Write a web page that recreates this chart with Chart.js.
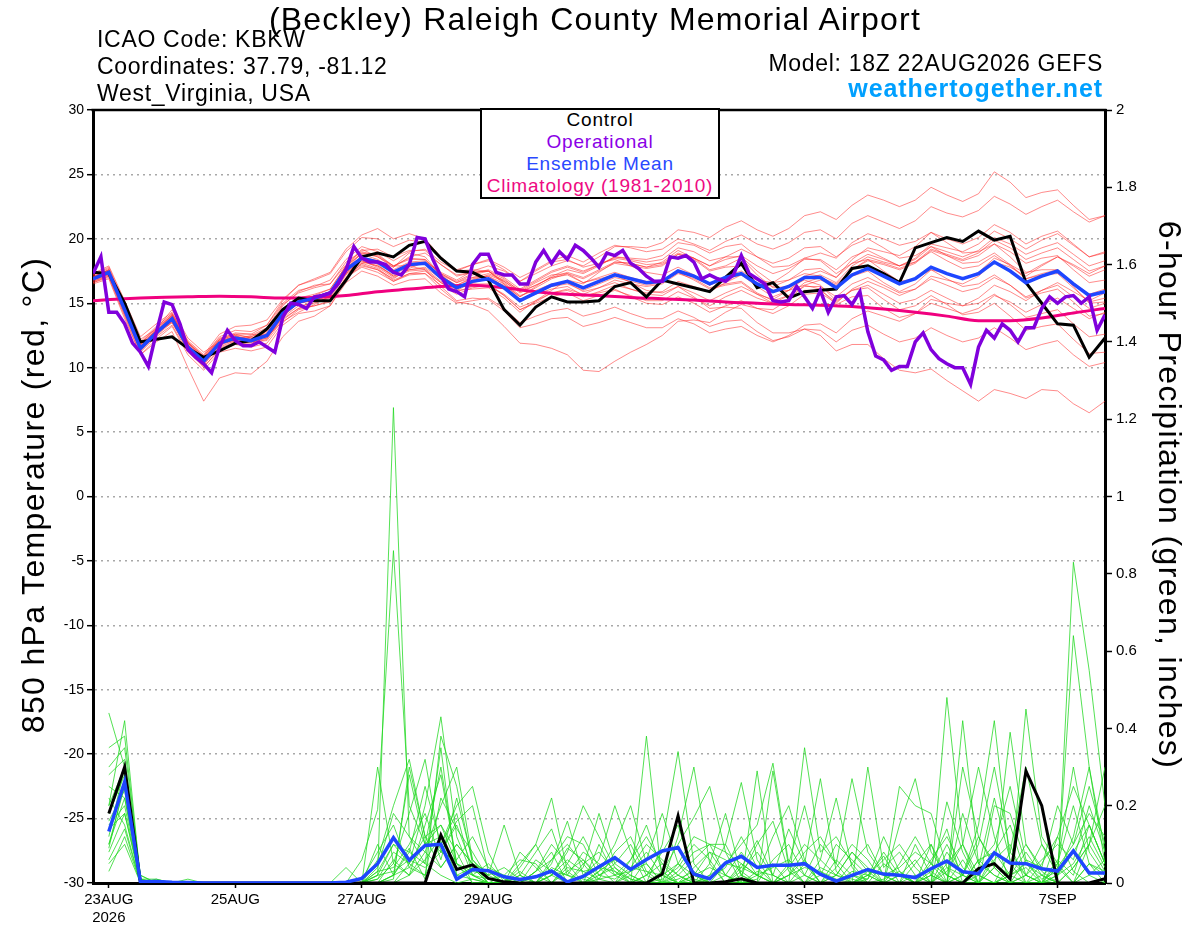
<!DOCTYPE html>
<html><head><meta charset="utf-8">
<script src="https://cdn.jsdelivr.net/npm/chart.js@4.4.1/dist/chart.umd.min.js"></script>
<style>
html,body{margin:0;padding:0;background:#fff;overflow:hidden;}
#wrap{position:relative;width:1200px;height:927px;overflow:hidden;}
#c{position:absolute;left:0;top:0;}
.t{position:absolute;white-space:nowrap;line-height:1;font-family:'Liberation Sans',Arial,Helvetica,sans-serif;color:#000;}
</style></head><body>
<div id="wrap">
<canvas id="c" width="1200" height="927"></canvas>
<div class="t" style="left:0;width:1190px;text-align:center;top:3px;font-size:32px;letter-spacing:1.2px;">(Beckley) Raleigh County Memorial Airport</div>
<div class="t" style="left:97px;top:28px;font-size:23px;letter-spacing:0.7px;">ICAO Code: KBKW</div>
<div class="t" style="left:97px;top:55px;font-size:23px;letter-spacing:0.7px;">Coordinates: 37.79, -81.12</div>
<div class="t" style="left:97px;top:82px;font-size:23px;letter-spacing:0.7px;">West_Virginia, USA</div>
<div class="t" style="right:97px;top:52px;font-size:23px;letter-spacing:0.7px;">Model: 18Z 22AUG2026 GEFS</div>
<div class="t" style="right:97px;top:76px;font-size:25px;letter-spacing:0.9px;font-weight:bold;color:#00a0ff;">weathertogether.net</div>
<div style="position:absolute;left:480px;top:108px;width:240px;height:91px;box-sizing:border-box;border:2px solid #000;background:#fff;"></div>
<div class="t" style="left:480px;width:240px;text-align:center;top:110px;font-size:19px;letter-spacing:0.8px;color:#000;">Control</div>
<div class="t" style="left:480px;width:240px;text-align:center;top:132px;font-size:19px;letter-spacing:0.8px;color:#8a00e6;">Operational</div>
<div class="t" style="left:480px;width:240px;text-align:center;top:154px;font-size:19px;letter-spacing:0.8px;color:#2a48ff;">Ensemble Mean</div>
<div class="t" style="left:480px;width:240px;text-align:center;top:176px;font-size:19px;letter-spacing:0.8px;color:#ee0a82;">Climatology (1981-2010)</div>
<div class="t" style="left:-317px;width:700px;text-align:center;top:479px;font-size:32px;letter-spacing:1.35px;transform:rotate(-90deg);transform-origin:50% 50%;">850 hPa Temperature (red, °C)</div>
<div class="t" style="left:820px;width:700px;text-align:center;top:479px;font-size:32px;letter-spacing:1.35px;transform:rotate(90deg);transform-origin:50% 50%;">6-hour Precipitation (green, inches)</div>
</div>
<script>
// ---- x axis tick labels (hours after 18Z 22AUG2026) ----
const xTickHours = [6, 54, 102, 150, 222, 270, 318, 366];
const xTickLabels = [['23AUG','2026'], '25AUG', '27AUG', '29AUG', '1SEP', '3SEP', '5SEP', '7SEP'];

// ---- 850 hPa temperature, 6-hourly from 18Z 22AUG ----
const ctrlTemp = [17.4,17.3,15.0,12.0,12.2,12.4,11.5,10.8,11.3,11.9,12.1,13.0,14.5,
15.4,15.2,15.2,16.8,18.6,18.9,18.6,19.5,19.8,18.5,17.5,17.4,16.8,
14.5,13.3,14.7,15.5,15.1,15.1,15.2,16.3,16.6,15.5,16.8,16.5,16.2,
15.9,17.0,18.1,16.2,16.6,15.4,15.9,16.0,16.1,17.7,17.9,17.3,16.6,
19.3,19.7,20.1,19.8,20.6,19.9,20.2,16.6,15.0,13.4,13.3,10.8,12.3];
const meanTemp = [16.9,17.4,14.5,11.5,12.7,13.8,11.6,10.5,11.9,12.3,12.1,12.5,14.2,
15.1,15.4,15.8,17.6,18.5,18.2,17.4,18.0,18.1,17.0,16.2,16.7,16.9,
16.2,15.2,15.8,16.4,16.7,16.2,16.7,17.2,16.9,16.6,16.7,17.5,17.1,
16.5,17.0,17.3,16.5,15.9,16.3,17.0,17.0,16.2,17.2,17.7,17.1,16.5,
16.9,17.8,17.3,16.9,17.3,18.2,17.5,16.6,17.1,17.5,16.5,15.6,15.9];
// operational, 3-hourly
const opTemp = [17.3,18.6,14.3,14.3,13.4,11.9,11.2,10.1,12.7,15.1,14.9,13.4,11.4,10.8,10.3,9.6,
11.6,12.9,12.1,11.7,11.7,12.0,11.6,11.2,13.9,15.0,14.9,14.6,15.5,15.6,15.8,16.5,
17.6,19.4,18.5,18.2,18.2,18.0,17.4,17.2,18.0,20.1,20.0,18.4,17.1,16.1,15.9,15.5,
18.0,18.8,18.8,17.4,17.2,17.2,16.5,16.5,18.2,19.1,18.1,19.0,18.4,19.5,19.1,18.5,
17.8,18.9,18.7,19.1,18.1,17.7,17.1,16.7,16.7,18.6,18.5,18.7,18.2,16.9,17.2,16.9,
16.7,17.2,18.7,17.3,16.9,16.5,15.2,15.1,15.2,16.3,15.5,14.6,16.0,14.3,15.5,15.6,
14.9,15.9,12.8,10.9,10.6,9.8,10.1,10.1,12.0,12.7,11.4,10.7,10.3,10.0,10.0,8.7,
11.6,12.9,12.3,13.4,12.9,12.0,13.1,13.1,14.6,15.5,15.0,15.5,15.6,15.0,15.5,12.9,
14.1];
// climatology, 12-hourly
const climTemp = [15.2,15.35,15.45,15.5,15.55,15.5,15.4,15.45,15.6,15.9,16.1,16.3,16.4,16.2,15.9,15.7,
15.6,15.45,15.35,15.25,15.1,15.0,14.9,14.85,14.75,14.55,14.3,14.0,13.65,13.65,13.85,14.25,14.6];

// ensemble members, temperature
const tM01 = [17.2,17.8,15.0,12.0,13.2,14.2,12.0,10.9,12.4,12.9,12.8,13.3,15.0,16.0,16.3,16.8,18.4,19.4,19.0,18.3,19.0,19.2,18.2,17.5,18.0,18.4,17.8,17.0,17.6,18.3,18.7,18.2,18.9,19.5,19.3,19.0,19.2,20.0,19.6,19.1,19.8,20.3,19.6,19.2,19.7,20.5,20.7,20.0,21.2,21.8,21.3,20.8,21.4,22.5,22.0,21.7,22.2,23.3,22.7,21.9,22.5,23.0,22.1,21.3,21.8];
const tM02 = [16.6,17.0,14.0,11.0,12.2,13.2,11.0,9.8,11.2,11.5,11.3,11.6,13.3,14.2,14.4,14.8,16.6,17.5,17.1,16.4,16.8,16.9,15.8,15.0,15.2,15.4,14.6,13.5,14.0,14.4,14.6,14.0,14.3,14.7,14.2,13.8,13.8,14.4,13.9,13.2,13.6,13.7,12.8,12.1,12.4,13.0,12.9,12.0,12.9,13.3,12.6,12.0,12.3,13.1,12.5,12.0,12.3,13.1,12.3,11.4,11.8,12.1,11.0,10.1,10.4];
const tM03 = [17.0,17.6,14.8,12.2,13.0,14.5,12.3,11.2,12.0,12.0,11.8,12.9,14.8,15.9,16.4,16.5,18.0,19.2,18.6,17.8,18.9,18.6,17.2,16.0,16.1,16.2,15.4,14.3,15.2,16.0,16.8,16.5,17.4,18.2,18.1,17.8,18.2,19.1,18.5,17.6,17.9,18.5,17.2,16.2,16.3,16.8,16.4,15.2,16.0,16.2,15.3,14.5,14.8,15.6,14.9,14.1,14.3,15.0,14.0,12.9,13.2,13.4,12.2,11.1,11.2];
const tM04 = [16.8,17.2,14.2,11.3,12.5,13.5,11.4,10.0,11.5,12.0,12.4,13.0,14.6,15.2,15.1,15.4,17.2,18.0,17.6,16.9,17.7,18.2,17.4,16.8,17.5,17.9,17.5,16.7,17.5,18.2,18.4,17.8,18.1,18.4,17.9,17.4,17.2,17.8,17.2,16.4,16.9,17.2,16.3,15.5,16.0,16.9,17.2,16.6,17.9,18.6,18.2,17.9,18.5,19.6,19.3,19.0,19.6,20.6,20.0,19.2,19.9,20.4,19.5,18.6,19.0];
const tM05 = [16.5,16.9,13.8,11.0,12.0,12.8,10.0,7.4,9.2,9.6,9.5,10.5,12.4,13.6,14.0,14.8,16.9,18.1,18.3,17.8,18.6,18.9,18.0,17.2,17.4,17.5,16.6,15.6,16.0,16.5,16.6,15.9,16.2,16.6,16.1,15.7,15.6,16.3,15.8,15.2,15.8,16.3,15.7,15.3,16.0,17.1,17.5,17.0,18.4,19.3,19.0,18.7,19.4,20.5,20.0,19.6,20.1,21.1,20.5,19.6,20.2,20.6,19.6,18.6,18.9];
const tM06 = [17.1,17.5,14.6,11.8,12.9,14.1,11.9,10.7,12.2,12.7,12.6,12.4,13.6,14.3,14.9,15.6,17.7,18.9,18.8,17.9,17.9,17.6,16.3,15.2,15.4,15.3,14.4,13.1,13.4,13.8,13.9,13.2,13.5,13.9,13.5,13.1,13.1,13.8,13.4,12.7,13.0,13.2,12.5,12.0,12.5,13.3,13.4,12.7,13.8,14.4,14.0,13.6,14.2,15.3,15.0,14.8,15.4,16.4,15.9,15.2,16.0,16.6,15.9,15.2,15.8];
const tM07 = [17.3,17.9,15.2,12.4,13.4,14.3,12.1,11.0,12.6,13.2,13.3,13.7,15.3,16.4,16.8,17.3,19.0,20.1,20.0,19.4,19.9,19.7,18.5,17.6,18.0,18.3,17.6,16.7,17.3,17.9,18.3,17.9,18.6,19.4,19.4,19.3,19.7,20.7,20.5,20.1,20.9,21.4,20.7,20.2,20.8,21.8,22.1,21.5,22.6,23.4,23.0,22.5,23.0,24.0,23.4,22.9,23.5,25.2,24.4,23.2,23.6,23.8,22.6,21.5,21.8];
const tM08 = [16.7,17.1,14.3,11.4,12.6,13.6,11.3,10.3,11.6,12.1,11.9,12.2,14.0,15.0,15.3,15.9,17.8,18.6,18.0,17.1,17.6,17.7,16.7,16.1,16.8,17.2,16.7,15.9,16.6,17.2,17.3,16.6,16.9,17.2,16.6,16.0,15.8,16.3,15.5,14.6,14.7,14.6,13.5,12.7,12.7,13.0,12.5,11.3,11.8,11.8,10.7,9.8,9.6,9.9,9.0,8.2,7.4,8.3,8.0,7.6,8.3,8.2,7.2,6.5,7.4];
const tM09 = [16.9,17.3,14.4,11.6,12.8,13.9,11.8,10.6,12.0,12.5,12.4,12.8,14.4,15.4,15.7,16.1,17.9,18.8,18.4,17.6,18.2,18.3,17.3,16.7,17.3,17.6,17.0,16.1,16.8,17.5,17.9,17.5,18.0,18.6,18.4,18.2,18.4,19.3,19.0,18.3,18.6,18.6,17.5,16.6,16.8,17.3,17.1,16.1,17.1,17.5,16.6,15.9,16.5,17.6,17.3,16.9,17.4,18.5,18.0,17.3,18.0,18.6,17.9,17.1,17.6];
const tM10 = [16.6,17.1,14.1,11.2,12.4,13.3,11.2,10.1,11.3,11.8,11.6,11.9,13.5,14.5,14.8,15.2,17.0,17.9,17.6,16.7,17.2,17.3,16.4,15.7,16.2,16.4,15.7,14.7,15.2,15.8,16.0,15.5,15.9,16.4,16.1,15.8,15.9,16.7,16.3,15.9,16.6,17.2,16.8,16.6,17.4,18.5,18.9,18.5,19.7,20.4,20.0,19.5,19.8,20.5,19.7,18.9,19.0,19.6,18.6,17.4,17.6,17.6,16.3,15.0,15.1];
const tM11 = [17.2,17.7,14.9,11.9,13.1,14.0,11.9,10.9,12.3,12.6,12.6,13.3,15.2,16.4,16.9,17.4,19.2,20.3,20.8,20.0,20.4,20.0,18.6,17.5,17.6,17.5,16.5,15.3,15.7,16.1,16.3,15.6,15.8,16.1,15.5,15.0,14.9,15.5,15.0,14.3,14.8,15.2,14.6,14.2,14.8,15.7,15.8,15.0,16.1,16.7,16.2,15.6,16.1,17.1,16.8,16.5,17.1,18.2,17.8,17.1,17.9,18.6,18.0,17.3,17.9];
const tM12 = [16.8,17.3,14.6,11.7,12.9,13.7,11.5,10.4,11.8,12.2,12.0,12.3,13.8,14.6,14.8,15.1,17.0,17.8,17.4,16.7,17.3,17.5,16.6,16.0,16.6,16.9,16.4,15.5,16.3,17.1,17.6,17.3,17.9,18.6,18.5,18.4,18.7,19.7,19.5,18.9,19.4,19.6,18.6,17.8,17.9,18.5,18.3,17.3,18.1,18.4,17.5,16.7,16.9,17.6,16.9,16.3,16.5,17.2,16.4,15.4,15.8,16.1,15.1,14.0,14.2];
const tM13 = [17.0,17.5,14.7,11.6,12.6,13.6,11.7,10.8,12.1,12.4,12.3,12.6,14.3,15.3,15.5,15.7,17.3,18.2,17.9,17.2,17.9,18.1,17.2,16.6,17.2,17.5,16.9,15.9,16.4,17.0,17.2,16.6,17.0,17.4,17.0,16.7,16.7,17.4,16.8,16.1,16.4,16.6,15.7,15.0,15.3,16.0,16.0,15.1,16.0,16.4,15.7,15.0,15.3,16.0,15.4,14.8,15.0,15.7,14.9,13.9,14.2,14.5,13.4,12.4,12.6];
const tM14 = [16.7,17.2,14.4,11.5,12.8,14.0,11.9,10.7,12.0,12.3,12.2,12.7,14.3,15.2,15.6,16.1,17.9,18.9,18.6,17.9,18.5,18.4,17.2,16.3,16.5,16.5,15.6,14.5,15.0,15.5,15.8,15.2,15.6,16.0,15.6,15.2,15.2,15.9,15.4,14.8,15.5,16.0,15.4,15.0,15.6,16.6,17.0,16.5,17.6,18.3,18.0,17.6,18.1,19.1,18.7,18.3,18.7,19.6,19.0,18.1,18.5,18.7,17.6,16.6,16.8];
const tM15 = [17.1,17.6,14.5,11.4,12.5,13.9,11.6,10.2,11.7,12.2,12.5,13.1,14.9,15.8,16.2,16.5,18.2,19.0,18.7,17.9,18.4,18.4,17.3,16.6,17.0,17.1,16.3,15.3,15.8,16.3,16.5,16.0,16.5,17.0,16.7,16.4,16.6,17.4,17.0,16.4,17.1,17.5,16.8,16.3,16.8,17.6,17.7,17.0,18.1,18.8,18.4,17.9,18.4,19.4,19.0,18.6,19.1,20.1,19.6,18.8,19.3,19.7,18.8,17.9,18.3];
const tM16 = [16.9,17.3,14.3,11.6,12.7,13.5,11.4,10.6,12.1,12.6,12.3,12.4,13.9,14.8,15.0,15.5,17.4,18.3,17.8,17.0,17.5,17.6,16.6,15.9,16.3,16.4,15.6,14.5,15.1,15.8,16.1,15.7,16.2,16.8,16.5,16.3,16.5,17.3,16.9,16.2,16.5,16.7,15.8,15.2,15.6,16.3,16.3,15.5,16.5,17.0,16.4,15.8,16.1,16.9,16.4,15.9,16.2,17.0,16.4,15.5,16.0,16.4,15.5,14.6,15.0];
const tM17 = [17.0,17.6,14.8,11.9,13.0,14.2,12.0,10.8,12.2,12.5,12.0,12.1,13.7,14.6,15.2,15.8,17.9,19.1,19.2,18.6,19.1,19.1,18.0,17.1,17.4,17.5,16.7,15.8,16.4,17.0,17.4,17.0,17.6,18.2,18.1,17.8,18.0,18.8,18.4,17.5,17.8,17.9,16.9,16.0,16.0,16.4,16.1,14.9,15.5,15.6,14.6,13.9,14.2,15.0,14.6,14.2,14.6,15.6,15.1,14.3,14.9,15.4,14.6,13.8,14.3];
const tM18 = [16.8,17.4,14.6,11.8,12.9,14.1,11.8,10.5,11.9,12.4,12.2,12.6,14.2,15.0,15.2,15.6,17.4,18.3,17.9,17.1,17.6,17.8,16.9,16.4,17.0,17.3,16.8,16.0,16.7,17.4,17.8,17.4,18.0,18.5,18.3,18.0,18.1,18.9,18.5,17.9,18.6,19.2,18.6,18.1,18.5,19.3,19.4,18.6,19.5,20.0,19.3,18.5,18.7,19.4,18.7,18.1,18.2,18.9,18.0,16.9,17.2,17.3,16.2,15.1,15.4];
const tM19 = [16.9,17.5,14.4,11.3,12.6,13.7,11.6,10.4,11.8,12.2,12.0,12.3,14.0,15.0,15.3,15.6,17.3,18.1,17.7,16.8,17.3,17.3,16.1,15.1,14.9,14.4,13.2,11.9,11.8,11.5,11.0,9.8,9.7,10.5,11.2,11.8,12.5,13.6,13.7,13.5,14.3,14.9,14.6,14.5,15.3,16.4,16.8,16.4,17.6,18.4,18.1,17.7,18.2,19.2,18.8,18.4,18.9,19.9,19.3,18.4,18.9,19.3,18.4,17.5,17.9];
const tM20 = [17.0,17.4,14.6,11.7,12.8,13.8,11.7,10.6,11.9,12.2,12.1,12.5,14.1,15.1,15.5,15.9,17.7,18.6,18.3,17.5,18.1,18.2,17.1,16.4,16.9,17.1,16.5,15.5,16.2,16.9,17.3,16.9,17.5,18.1,17.9,17.7,17.9,18.8,18.5,17.9,18.4,18.7,17.9,17.3,17.7,18.4,18.4,17.6,18.6,19.1,18.5,17.9,18.2,19.0,18.3,17.7,17.9,18.7,17.9,16.9,17.3,17.6,16.6,15.7,16.1];

// ---- 6-hour precipitation (inches), 6-hourly, first period ending 00Z 23AUG ----
const ctrlPrecip = [.18,.30,
0,0,0,0,0, 0,0,0,0,0, 0,0,0,0,0, 0,0,0,0,
.124,.035,.047,.012,.003,
0,0,0,0,0,0,0,0,0,
.023,.174,0,0,.003,.011,0,
0,0,0,0,0,0,0,0,0,0,0,0,0,
.037,.05,.011,.29,.2,0,0,0,.011];
const meanPrecip = [.133,.262,.003,.004,.002,.001,0,0,0,0,0,0,0,0,0,.002,.012,.05,.117,.059,.097,.1,.01,.035,.032,.016,.009,.016,.031,.003,.017,.042,.066,.035,.061,.083,.092,.023,.011,.052,.069,.04,.046,.046,.05,.023,.005,.02,.035,.023,.02,.014,.037,.057,.029,.024,.078,.052,.05,.037,.031,.083,.026,.026];

const pM01 = [.44,.30,0,0,0,0,0,0,0,0,0,0,0,0,0,0, 0,.02,1.23,.12,.05,.02,0,.01,0,0,0,.03,.08,0,0,.02, .05,.1,.02,0,.12,.3,.05,0,0,0,0,.02,.06,0,0,0, 0,.01,.03,0,0,0,.02,.1,.3,.08,.02,0,.05,.2,.05,0];
const pM02 = [.2,.42,.01,0,0,0,0,0,0,0,0,0,0,0,0,0, .06,.19,.86,.2,.1,.3,.05,.02,.01,0,0,0,0,.05,.12,.04, 0,0,.02,.08,.15,.02,0,0,.04,.11,.02,0,0,0,0,0, .02,.07,0,0,0,.48,.1,0,0,.03,.1,.04,.02,.05,.12,.04];
const pM03 = [.1,.25,0,.01,0,0,0,0,0,0,0,0,0,0,0,.04, 0,.3,.05,.18,.32,.08,.15,.04,0,0,.05,.1,.22,.03,0,0, 0,.03,.08,.02,0,0,.05,.18,.02,0,0,0,.05,.27,.03,0, 0,0,0,0,0,0,.02,.15,.42,.05,0,0,.01,.83,.55,.2];
const pM04 = [.3,.35,.02,0,0,.01,0,0,0,0,0,0,0,0,0,0, 0,.03,.1,.05,.2,.43,.12,.02,.05,.01,0,0,.02,.09,.06,.01, .02,0,0,.03,.1,.17,.25,.08,0,0,.29,.04,0,0,.02,.08, .03,0,0,.1,.02,0,.3,.12,.05,.02,0,0,.12,.25,.15,.05];
const pM05 = [.15,.2,0,0,0,0,0,0,0,0,0,0,0,0,0,0, 0,0,.02,.09,.01,.38,.25,.05,0,0,0,.02,0,0,.04,.18, .05,.02,0,0,.02,.06,.1,.08,.05,.02,0,0,.35,.08,.12,.05, 0,0,.15,.27,.08,.02,0,0,.2,.18,.05,.01,.03,.08,.15,.05];
const pM06 = [.05,.1,0,0,0,0,0,0,0,0,0,0,0,0,0,0, 0,.06,.2,.32,.12,.15,.08,0,0,.02,.06,.05,0,0,0,.03, .1,.2,.05,0,0,0,.02,.05,.1,.15,.31,.05,0,0,0,.02, 0,0,0,.05,.1,.02,0,.06,.02,0,.45,.12,.05,0,.1,.3];
const pM07 = [.25,.22,0,0,0,0,0,0,0,0,0,0,0,0,0,0, 0,.01,.05,.02,.08,.2,.3,.06,.01,0,.02,0,.05,.16,.02,0, 0,0,0,.1,.34,.05,0,0,0,.03,.02,.14,.05,0,.04,.1, .06,0,.02,0,0,.21,.08,0,.04,.39,.1,.03,0,0,.05,.02];
const pM08 = [.08,.18,.01,0,0,0,0,0,0,0,0,0,0,0,0,0, 0,0,.01,.3,.12,.04,.1,.05,.02,0,0,.03,.1,.05,0,.01, 0,.06,.15,.03,0,.02,.08,.02,0,.29,0,.05,.2,.03,0,0, .01,.12,.03,0,.05,.14,0,.02,0,.08,.3,.1,.02,.64,.3,.05];
const pM09 = [.18,.28,0,0,0,0,0,0,0,0,0,0,0,0,0,0, .01,.08,.15,.04,.02,.1,.2,.25,.08,0,0,0,.06,.12,.1,.02, .04,0,.38,0,.05,.12,.1,.1,.02,0,0,0,0,.06,.22,.04, 0,0,0,.02,0,.05,.1,.3,.12,0,0,.05,.12,.03,0,.01];
const pM10 = [.12,.3,0,0,0,0,0,0,0,0,0,0,0,0,0,0, 0,0,.06,.02,.15,.28,.05,.03,.02,.15,.02,0,0,0,.05,.08, .03,0,.02,.05,.02,0,.02,.1,.26,.06,0,0,.02,.1,.05,.27, .08,.02,0,0,.03,0,.42,.05,.1,.25,.06,0,.02,.12,.3,.08];
const pM11 = [.35,.38,.01,.01,0,0,0,0,0,0,0,0,0,0,0,0, 0,.1,.02,.08,.05,.35,.02,.01,0,0,.08,.04,0,0,.02,.06, .2,.08,0,0,.01,.03,0,0,.05,.02,.12,.2,.06,0,0,0, .3,.04,.08,.02,0,.08,.02,0,.04,0,.06,.04,.2,.1,.18,.12];
const pM12 = [.22,.15,0,0,0,0,0,0,0,0,0,0,0,0,0,0, 0,.02,.1,.08,.25,.1,.18,.02,0,0,0,.06,.03,.02,0,.1, .02,.03,.05,0,0,0,0,.02,.08,.02,0,.04,.1,.06,.02,0, .02,0,.25,.2,.18,.04,0,0,.08,.15,.02,0,0,.04,.1,.03];
const pM13 = [.06,.14,0,0,0,0,0,0,0,0,0,0,0,0,0,0, 0,0,0,.05,.02,.22,.14,.08,.01,.02,0,0,.02,.08,.2,.12, .04,.01,0,0,.03,.08,.1,.02,0,.01,.05,0,0,.02,.1,.06, .02,0,.05,.12,.05,0,.18,.05,.02,0,0,.02,.05,.3,.08,.02];
const pM14 = [.28,.32,0,0,0,0,0,0,0,0,0,0,0,0,0,0, 0,.04,.18,.12,.08,.04,.1,.05,.03,0,.02,.08,.14,.02,.01,0, 0,0,.06,.18,.05,0,0,0,.02,.1,.16,.03,0,0,.06,.02, .01,.08,.02,0,.1,0,0,.04,.22,.06,.02,0,.06,.02,.15,.05];
const pM15 = [.16,.24,0,0,0,0,0,0,0,0,0,0,0,0,0,0, 0,0,.02,.28,.1,.15,.05,0,0,0,.03,0,0,.04,.03,.01, .08,.12,.03,0,0,.01,0,.05,.04,.02,0,.02,.08,.12,.05,0, 0,0,0,0,.02,0,.06,0,0,.02,.08,.02,0,0,.05,.03];
const pM16 = [.1,.22,.02,0,0,0,0,0,0,0,0,0,0,0,0,0, 0,.01,.08,.05,.12,.08,.06,.12,.04,.02,0,0,.04,.02,.08,.05, .02,.06,.12,.05,0,.02,.04,.02,0,0,.06,.1,.02,0,0,.05, .1,.02,0,0,.02,.1,.02,0,0,.02,.04,0,.02,.08,.02,0];
const pM17 = [.03,.12,0,0,0,0,0,0,0,0,0,0,0,0,0,0, 0,0,0,.02,.06,.12,.02,.04,0,0,0,.03,.06,.1,.05,0, 0,.02,0,.02,.05,.02,0,0,.03,.08,.02,0,0,0,.02,.08, .04,0,.02,.06,0,.03,.1,.02,0,0,.02,.1,.04,0,.02,.06];
const pM18 = [.2,.3,0,0,0,0,0,0,0,0,0,0,0,0,0,0, 0,.03,.04,.1,.18,.06,.22,.06,.02,.04,.01,0,0,.03,.06,.02, .01,.04,.1,.06,.02,0,.01,.04,.12,.04,0,0,0,.04,.02,.01, 0,.05,.02,0,.06,.12,.04,0,.06,.1,0,0,.04,.1,.25,.1];
const pM19 = [.14,.18,0,0,0,0,0,0,0,0,0,0,0,0,0,0, 0,0,.02,.04,.1,.12,.04,.02,0,0,.04,.1,.02,0,0,.03, .06,.04,.03,.02,0,.04,.08,.06,.03,0,0,.02,.04,.03,.01,0, .03,.02,.04,.08,.05,.02,0,.06,.08,.02,.05,.02,0,.04,.1,.2];
const pM20 = [.09,.26,.01,0,0,0,0,0,0,0,0,0,0,0,0,0, 0,.02,.03,.06,.04,.08,.16,.2,.03,0,0,0,.02,.06,.03,.04, .03,.01,0,.01,.04,.1,.06,0,0,.02,.04,.06,.02,0,0,.03, .02,.06,.1,.04,0,.04,.02,.12,.04,0,.02,.06,.1,.06,.2,.08];

const tempMembers = [tM01,tM02,tM03,tM04,tM05,tM06,tM07,tM08,tM09,tM10,tM11,tM12,tM13,tM14,tM15,tM16,tM17,tM18,tM19,tM20];
const precipMembers = [pM01,pM02,pM03,pM04,pM05,pM06,pM07,pM08,pM09,pM10,pM11,pM12,pM13,pM14,pM15,pM16,pM17,pM18,pM19,pM20];

// place a series on the hour axis: first value at startHour, then every stepHours
function series(vals, startHour, stepHours) {
  return vals.map((v, i) => ({x: startHour + i * stepHours, y: v}));
}

Chart.defaults.font.family = "'Liberation Sans', Arial, Helvetica, sans-serif";
Chart.defaults.color = '#000';

const datasets = [];
datasets.push({label:'Operational', data: series(opTemp,0,3), yAxisID:'y', borderColor:'#8000dc', borderWidth:3.5, order:1});
datasets.push({label:'Ensemble Mean', data: series(meanTemp,0,6), yAxisID:'y', borderColor:'#1e46ff', borderWidth:3.5, order:2});
datasets.push({label:'Ensemble Mean precip', data: series(meanPrecip,6,6), yAxisID:'yP', borderColor:'#1e46ff', borderWidth:3.5, order:2});
datasets.push({label:'Control', data: series(ctrlTemp,0,6), yAxisID:'y', borderColor:'#000000', borderWidth:3, order:3});
datasets.push({label:'Control precip', data: series(ctrlPrecip,6,6), yAxisID:'yP', borderColor:'#000000', borderWidth:3, order:3});
datasets.push({label:'Climatology', data: series(climTemp,0,12), yAxisID:'y', borderColor:'#f0007f', borderWidth:3, order:4, cubicInterpolationMode:'monotone'});
precipMembers.forEach((m, i) => datasets.push({label:'precip member '+(i+1), data: series(m,6,6), yAxisID:'yP', borderColor:'rgba(30,215,30,0.85)', borderWidth:0.9, order:5}));
tempMembers.forEach((m, i) => datasets.push({label:'temp member '+(i+1), data: series(m,0,6), yAxisID:'y', borderColor:'rgba(255,40,40,0.6)', borderWidth:0.9, order:6}));

const frameTop = {
  id: 'frameTop',
  afterDraw(chart) {
    const {ctx, chartArea: a} = chart;
    ctx.save();
    ctx.strokeStyle = '#000';
    ctx.lineWidth = 2.5;
    ctx.beginPath();
    ctx.moveTo(a.left - 1.5, a.top);
    ctx.lineTo(a.right + 1.5, a.top);
    ctx.stroke();
    ctx.restore();
  }
};

new Chart(document.getElementById('c'), {
  type: 'line',
  data: { datasets },
  plugins: [frameTop],
  options: {
    responsive: false,
    animation: false,
    devicePixelRatio: 1,
    layout: { padding: { top: 110, left: 0, right: 0, bottom: 0 } },
    elements: { point: { radius: 0 }, line: { tension: 0, fill: false } },
    plugins: { legend: { display: false }, tooltip: { enabled: false } },
    scales: {
      x: {
        type: 'linear', min: 0, max: 384,
        afterBuildTicks: (s) => { s.ticks = xTickHours.map(v => ({ value: v })); },
        afterFit: (s) => { s.height = 44; },
        ticks: {
          autoSkip: false, maxRotation: 0, color: '#000', font: { size: 15 }, padding: 3,
          callback: (v) => { const i = xTickHours.indexOf(v); return i >= 0 ? xTickLabels[i] : ''; }
        },
        grid: { drawOnChartArea: false, drawTicks: true, tickLength: 5, tickColor: '#000', tickWidth: 1.5 },
        border: { display: true, color: '#000', width: 3 }
      },
      y: {
        position: 'left', min: -30, max: 30,
        afterFit: (s) => { s.width = 93; },
        ticks: { stepSize: 5, color: '#000', font: { size: 14 }, padding: 3 },
        grid: {
          color: (c) => (c.tick && Math.abs(c.tick.value) === 30) ? 'rgba(0,0,0,0)' : '#a8a8a8',
          lineWidth: 1.4, tickColor: '#000', tickLength: 6, tickWidth: 1.5
        },
        border: { display: true, color: '#000', width: 3, dash: [2, 4] }
      },
      yP: {
        position: 'right', min: 0, max: 2,
        afterFit: (s) => { s.width = 95; },
        ticks: { stepSize: 0.2, color: '#000', font: { size: 15 }, padding: 4,
                 callback: (v) => String(Math.round(v * 10) / 10) },
        grid: { drawOnChartArea: false, tickColor: '#000', tickLength: 7, tickWidth: 1.5 },
        border: { display: true, color: '#000', width: 3 }
      }
    }
  }
});
</script>
</body></html>
